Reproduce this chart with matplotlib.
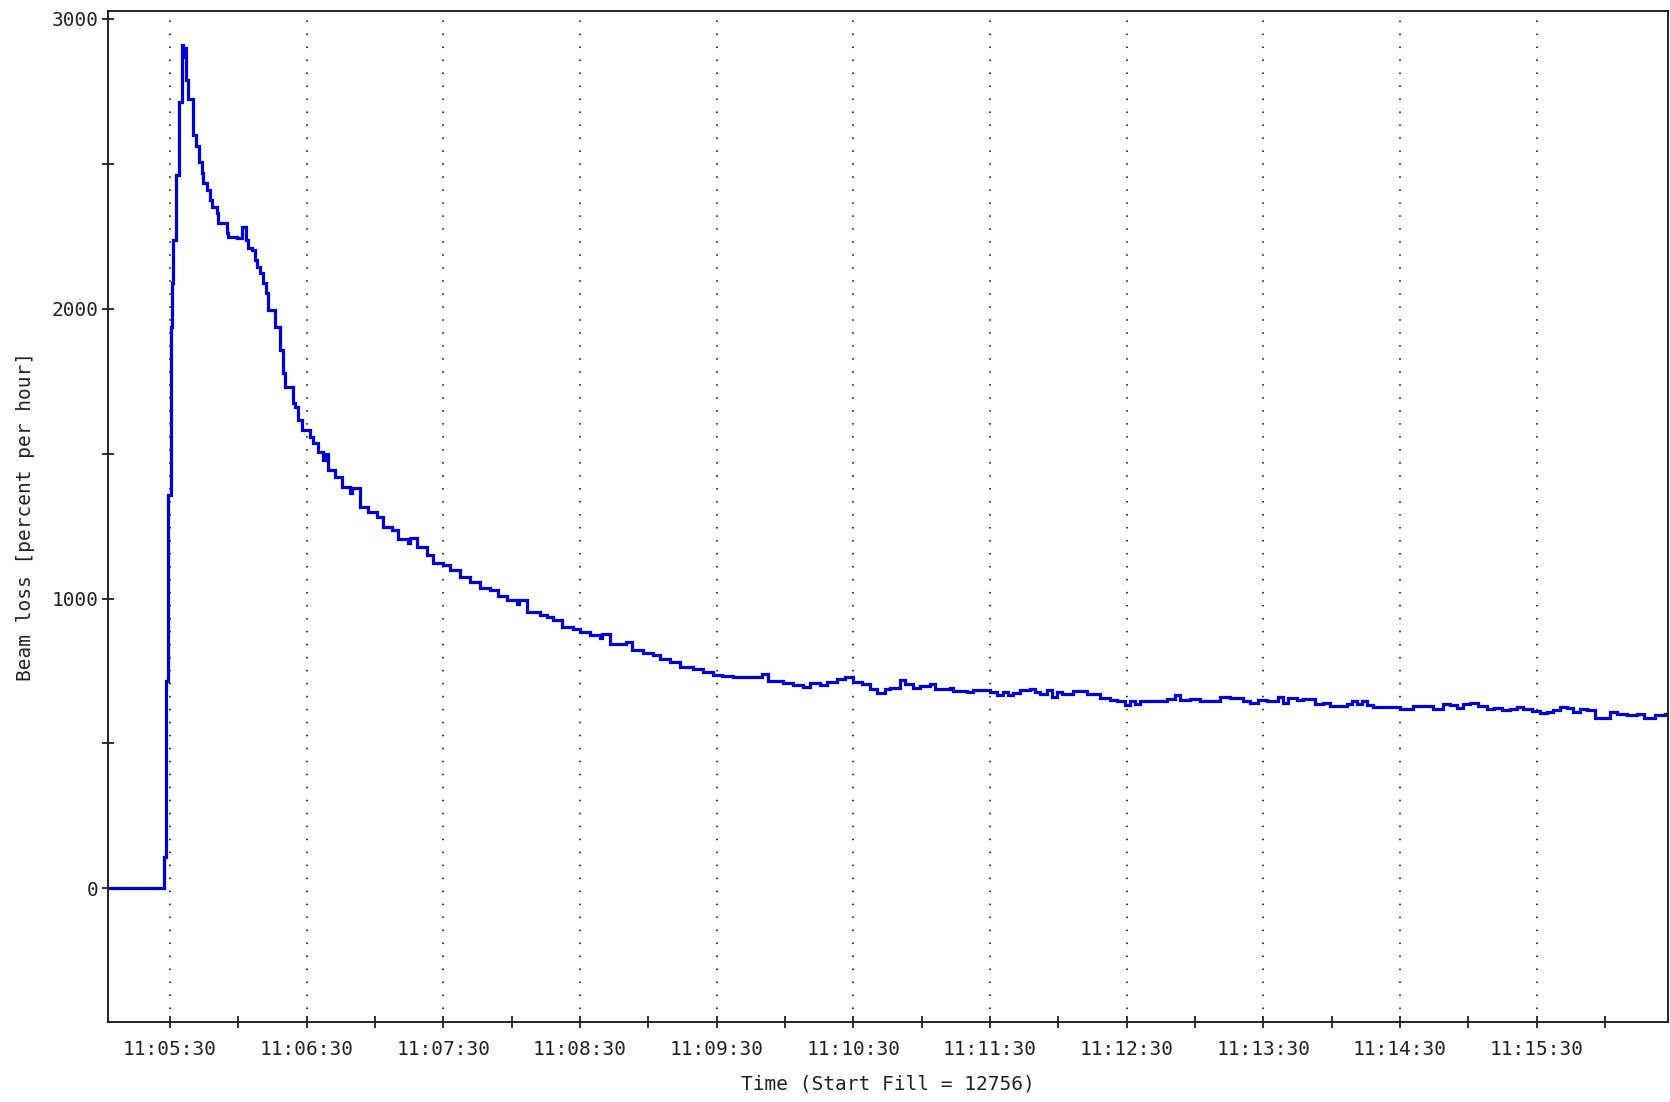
import matplotlib
matplotlib.use("Agg")
import matplotlib.pyplot as plt
from matplotlib.ticker import MultipleLocator, FuncFormatter

# time in seconds after 11:05:00, beam loss in percent per hour
t_sec = [2.8, 27.4, 28.3, 29.3, 30.3, 30.7, 31.5, 32.6, 34.1, 35.1, 35.8, 36.3,
         36.9, 38.0, 40.2, 41.5, 42.9, 43.9, 44.6, 46.1, 47.6, 48.3, 50.5, 51.2,
         54.9, 55.6, 59.3, 61.5, 63.4, 64.4, 65.9, 67.3, 68.1, 69.5, 70.7, 72.1,
         73.2, 76.1, 78.3, 79.7, 80.5, 84.1, 84.9, 86.3, 87.8, 91.5, 92.9, 95.1,
         97.3, 98.4, 99.5, 102.4, 105.4, 109.0, 110.0, 113.4, 117.1, 120.7, 123.6,
         127.3, 130.2, 134.6, 135.5, 138.3, 142.7, 145.6, 150.0, 152.9, 157.3,
         161.7, 166.1, 170.5, 174.1, 177.8, 182.2, 183.2, 186.6, 192.4, 195.4,
         198.3, 202.0, 207.0, 210.0, 214.4, 218.8, 219.8, 223.2, 229.0, 230.0,
         232.7, 237.8, 242.2, 245.1, 249.5, 253.9, 259.7, 264.1, 268.5, 272.2,
         277.3, 284.6, 289.0, 290.0, 292.7, 299.2, 303.6, 308.0, 311.0, 315.4,
         318.3, 322.7, 326.3, 330.0, 333.7, 337.3, 340.3, 343.9, 346.1, 350.5,
         352.7, 356.2, 359.3, 363.6, 365.8, 372.4, 373.7, 379.8, 382.5, 386.9,
         390.0, 392.9, 395.7, 397.9, 400.1, 403.2, 407.5, 409.7, 411.9, 414.9,
         417.1, 419.3, 421.5, 426.4, 429.5, 432.4, 435.2, 438.3, 442.7, 445.6,
         449.2, 451.4, 453.6, 455.8, 463.2, 467.5, 471.2, 473.4, 477.8, 482.2,
         486.6, 491.0, 495.3, 501.2, 504.1, 507.6, 511.4, 516.4, 518.7, 520.9,
         524.6, 527.5, 532.7, 536.3, 539.3, 546.6, 548.8, 551.0, 553.2, 555.4,
         558.2, 570.0, 575.8, 584.6, 589.0, 591.9, 594.9, 597.8, 600.7, 604.4,
         608.1, 611.0, 614.6, 618.3, 621.2, 624.1, 627.8, 631.4, 634.4, 637.3,
         640.2, 643.2, 646.1, 649.0, 652.0, 655.6, 662.2, 665.2, 669.6, 674.0,
         676.9, 682.1, 686.5, 687.6]
loss = [0, 107, 715, 1357, 1937, 2088, 2237, 2461, 2714, 2910, 2870, 2900,
        2789, 2723, 2599, 2560, 2506, 2468, 2434, 2409, 2375, 2351, 2330, 2295,
        2261, 2247, 2244, 2282, 2237, 2209, 2202, 2168, 2144, 2123, 2088, 2054,
        1995, 1937, 1857, 1777, 1730, 1674, 1661, 1615, 1581, 1557, 1535, 1506,
        1477, 1500, 1443, 1420, 1385, 1363, 1380, 1316, 1299, 1282, 1247,
        1236, 1207, 1190, 1210, 1178, 1150, 1121, 1115, 1098, 1075,
        1057, 1035, 1029, 1008, 994, 980, 995, 954, 942, 937,
        925, 902, 896, 885, 873, 865, 878, 844, 842, 850,
        822, 811, 805, 793, 781, 764, 756, 747, 735, 732,
        729, 729, 729, 740, 715, 709, 701, 695, 707, 703,
        712, 723, 729, 712, 704, 689, 674, 689, 692, 718,
        704, 692, 697, 704, 689, 692, 681, 676, 684, 686,
        678, 666, 678, 666, 675, 686, 689, 678, 670, 686,
        660, 678, 669, 681, 681, 672, 670, 657, 651, 646,
        632, 646, 637, 648, 648, 654, 666, 651, 654, 646,
        648, 662, 657, 648, 639, 651, 646, 660, 641, 657,
        651, 654, 635, 639, 628, 637, 646, 637, 646, 632,
        626, 620, 628, 620, 637, 632, 623, 635, 639, 628,
        620, 623, 614, 620, 626, 620, 612, 605, 608, 614,
        626, 623, 608, 620, 614, 589, 608, 600, 597, 603,
        589, 597, 600, 600]

x_range = (2.8, 687.6)
y_range = (-461, 3027)


def fmt_time(s, pos):
    total = 11 * 3600 + 5 * 60 + int(round(s))
    return f"{total // 3600}:{(total % 3600) // 60:02d}:{total % 60:02d}"


mono = "DejaVu Sans Mono"
fig = plt.figure(figsize=(16.7, 11.02), dpi=100)
ax = fig.add_axes([0.0647, 0.0726, 0.9341, 0.9174])

ax.plot(t_sec, loss, drawstyle="steps-post", color="#0000d8", lw=2.3,
        solid_joinstyle="miter")

ax.set_xlim(*x_range)
ax.set_ylim(*y_range)

ax.xaxis.set_major_locator(MultipleLocator(60, offset=30))
ax.xaxis.set_minor_locator(MultipleLocator(60))
ax.xaxis.set_major_formatter(FuncFormatter(fmt_time))
ax.yaxis.set_major_locator(MultipleLocator(1000))
ax.yaxis.set_minor_locator(MultipleLocator(500))

ax.grid(axis="x", which="major", color="black", lw=1.1,
        linestyle=(0, (1, 7.5)))
ax.tick_params(which="both", direction="inout", length=8, width=1.3,
               color="#222222")
ax.tick_params(axis="x", pad=9, labelsize=14, labelcolor="#222222")
ax.tick_params(axis="y", pad=3, labelsize=14, labelcolor="#222222")
for lbl in ax.get_xticklabels() + ax.get_yticklabels():
    lbl.set_family(mono)

for sp in ax.spines.values():
    sp.set_linewidth(1.4)
    sp.set_color("#222222")

ax.set_xlabel("Time (Start Fill = 12756)", family=mono, fontsize=14,
              color="#222222")
ax.set_ylabel("Beam loss [percent per hour]", family=mono, fontsize=14,
              color="#222222")
ax.xaxis.set_label_coords(0.5, -0.052)
ax.yaxis.set_label_coords(-0.047, 0.5)

fig.savefig("out.png", dpi=100)
